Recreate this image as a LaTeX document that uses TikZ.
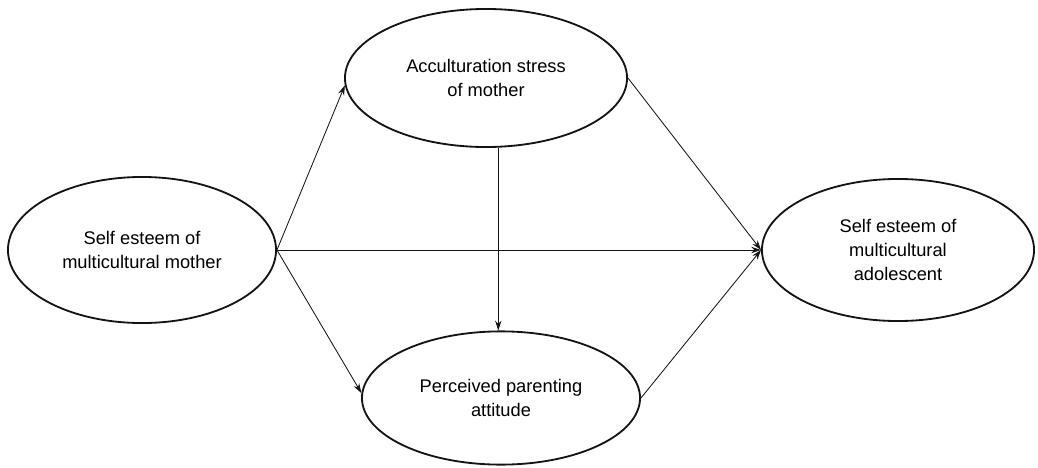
\documentclass[tikz,border=0pt]{standalone}
\usepackage{fontspec}
\setmainfont{Liberation Sans}
\usepackage{xcolor}
\definecolor{semblack}{RGB}{20,20,20}
\usepackage{tikz}
\usetikzlibrary{arrows.meta, positioning, shapes.geometric, calc}

\begin{document}
\begin{tikzpicture}[x=0.025cm, y=-0.025cm,
    construct/.style={draw=semblack, ellipse, line width=1.3pt, inner sep=0pt,
      align=center, font=\fontsize{13}{17}\selectfont},
    link/.style={-{Stealth[length=7pt, width=4.5pt]}, draw=semblack, line width=0.6pt}]
  \useasboundingbox (0,0) rectangle (1038,467);

  % --- Constructs ---
  \node[construct, minimum width=6.7cm, minimum height=3.65cm] (mother) at (142,250)
    {Self esteem of\\multicultural mother};
  \node[construct, minimum width=7.05cm, minimum height=3.45cm] (stress) at (486,78)
    {Acculturation stress\\of mother};
  \node[construct, minimum width=6.95cm, minimum height=3.33cm] (parenting) at (501,398)
    {Perceived parenting\\attitude};
  \node[construct, minimum width=6.8cm, minimum height=3.55cm] (adolescent) at (898,250)
    {Self esteem of\\multicultural\\adolescent};

  % --- Paths ---
  \draw[link] (mother.east) -- (stress.183);
  \draw[link] (mother.east) -- (parenting.178);
  \draw[link] (mother.east) -- (adolescent.west);
  \draw[link] (stress.280) -- (stress.280 |- parenting.north);
  \draw[link] (stress.east) -- (adolescent.west);
  \draw[link] (parenting.east) -- (adolescent.west);
\end{tikzpicture}
\end{document}
